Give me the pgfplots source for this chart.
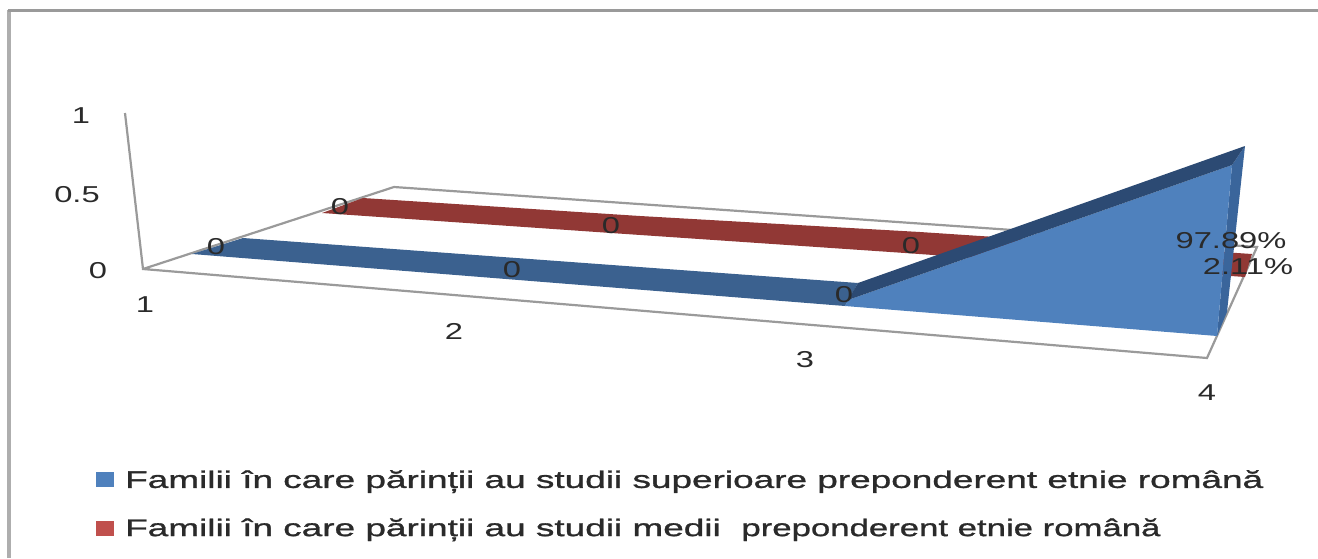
\documentclass[border=0pt]{standalone}
\usepackage{pgfplots}
\pgfplotsset{compat=1.18}
\usepackage{fontspec}
\setmainfont{Liberation Sans}
\newfontfamily\widefont[FakeStretch=1.42]{Liberation Sans}
\newfontfamily\legfont[FakeStretch=1.54,FakeBold=1.2]{Liberation Sans}
\definecolor{bluefront}{HTML}{4F81BD}
\definecolor{blueflat}{HTML}{3B618F}
\definecolor{blueslope}{HTML}{2C4A73}
\definecolor{blueside}{HTML}{3A659B}
\definecolor{redflat}{HTML}{913835}
\definecolor{redleg}{HTML}{C0504D}
\definecolor{gridg}{HTML}{9A9A9A}
\definecolor{txt}{HTML}{2A2A2A}
% Projected outlines in picture pixels. cat = category, val = plotted value.
\pgfplotstableread{
px py cat val
322 213 1 0
611 233 2 0
905 253 3 0
1245 277 4 0.0211
1252 254 4 0.0211
920 232 3 0
640 216 2 0
363 198 1 0
}\redtable
\pgfplotstableread{
px py cat val
192 254 1 0
845 306 3 0
858 283 3 0
243 238 1 0
}\blueflattable
\pgfplotstableread{
px py cat val
848 300 3 0
1232 165 4 0.9789
1245 146 4 0.9789
858 283 3 0
}\blueslopetable
\pgfplotstableread{
px py cat val
845 306 3 0
848 300 3 0
1232 165 4 0.9789
1217 336 4 0
}\bluefronttable
\pgfplotstableread{
px py cat val
1232 165 4 0.9789
1245 146 4 0.9789
1227 312 4 0
1217 336 4 0
}\bluesidetable
\begin{document}
\begin{tikzpicture}[x=1pt,y=1pt]
\useasboundingbox (0,0) rectangle (1318,558);
\begin{axis}[
  at={(0,0)},anchor=south west,
  scale only axis,width=1318pt,height=558pt,
  xmin=0,xmax=1318,ymin=0,ymax=558,y dir=reverse,
  axis lines=none,clip=false,
  legend style={draw=none,fill=none,at={(axis cs:96,468)},anchor=north west,
    font=\legfont\fontsize{24}{27}\selectfont,text=txt,
    legend cell align=left,
    row sep=25pt,inner sep=0pt},
  legend image code/.code={\fill[#1] (0pt,-7.5pt) rectangle (18pt,7.5pt);\path (27pt,0pt);},
]
% chart frame
\addplot[forget plot,draw=gridg!80,line width=4pt] coordinates {(9,558) (9,10)};
\addplot[forget plot,draw=gridg,line width=3pt] coordinates {(8,10) (1318,10)};
% floor and wall line
\addplot[forget plot,draw=gridg,line width=2.2pt] coordinates {(125,113) (143,269) (1207,358) (1257,247) (394,187) (143,269)};
% series
\addplot[forget plot,fill=redflat,draw=none] table[x=px,y=py] {\redtable} --cycle;
\addplot[forget plot,fill=blueside,draw=none] table[x=px,y=py] {\bluesidetable} --cycle;
\addplot[forget plot,fill=blueflat,draw=none] table[x=px,y=py] {\blueflattable} --cycle;
\addplot[forget plot,fill=bluefront,draw=none] table[x=px,y=py] {\bluefronttable} --cycle;
\addplot[forget plot,fill=blueslope,draw=none] table[x=px,y=py] {\blueslopetable} --cycle;
% axis tick labels and data labels
\addplot[forget plot,draw=none,point meta=explicit symbolic,nodes near coords,
  every node near coord/.style={anchor=center,inner sep=0pt,text=txt,font=\widefont\fontsize{23}{23}\selectfont}]
  table[x=px,y=py,meta=lab] {
px py lab
81 116 1
77 195 0.5
98 271 0
145 305 1
454 331 2
805 360 3
1207 393 4
216 247 0
512 270 0
844 295 0
340 207 0
611 226 0
911 246 0
};
\addplot[forget plot,draw=none,point meta=explicit symbolic,nodes near coords={\pgfplotspointmeta\%},
  every node near coord/.style={anchor=center,inner sep=0pt,text=txt,font=\widefont\fontsize{23}{23}\selectfont}]
  table[x=px,y=py,meta=lab] {
px py lab
1231 241 97.89
1248 267 2.11
};
% legend keys
\addlegendimage{fill=bluefront,draw=none}
\addlegendentry{Familii în care părinții au studii superioare preponderent etnie română}
\addlegendimage{fill=redleg,draw=none}
\addlegendentry{Familii în care părinții au studii medii\ \ \scalebox{0.94}[1]{preponderent etnie română}}
\end{axis}
\end{tikzpicture}
\end{document}
